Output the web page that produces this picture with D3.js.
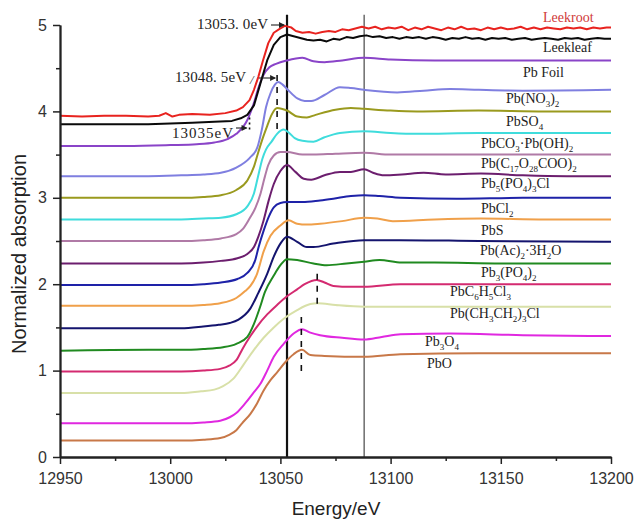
<!DOCTYPE html>
<html>
<head>
<meta charset="utf-8">
<script src="https://cdn.jsdelivr.net/npm/d3@7"></script>
<style>
  html, body { margin: 0; padding: 0; background: #fff; }
  svg { display: block; }
</style>
</head>
<body>
<svg id="chart" width="640" height="524"></svg>
<script>
// ---------------- DATA ----------------
const xTicks = [12950, 13000, 13050, 13100, 13150, 13200];
const xMinorTicks = [12975, 13025, 13075, 13125, 13175];
const yTicks = [0, 1, 2, 3, 4, 5];
const yMinorTicks = [0.5, 1.5, 2.5, 3.5, 4.5];

const seriesNames = [
  "Leekroot", "Leekleaf", "Pb Foil", "Pb(NO_{3})_{2}", "PbSO_{4}",
  "PbCO_{3}·Pb(OH)_{2}", "Pb(C_{17}O_{28}COO)_{2}", "Pb_{5}(PO_{4})_{3}Cl",
  "PbCl_{2}", "PbS", "Pb(Ac)_{2}·3H_{2}O", "Pb_{3}(PO_{4})_{2}",
  "PbC_{6}H_{5}Cl_{3}", "Pb(CH_{3}CH_{2})_{3}Cl", "Pb_{3}O_{4}", "PbO"
];

const leekroot = [[12950,3.95],[12960,3.94],[12970,3.95],[12980,3.95],[12990,3.94],[12995,3.95],[12998,3.98],[13001,3.94],[13004,3.96],[13010,3.97],[13018,3.96],[13025,3.98],[13030,4.01],[13033,4.05],[13036,4.13],[13038,4.25],[13040,4.40],[13042,4.58],[13044.5,4.79],[13047,4.91],[13050,4.96],[13052,4.99],[13055,4.97],[13057,4.93],[13060,4.91],[13063,4.92],[13066,4.90],[13069,4.92],[13072,4.93],[13075,4.92],[13078,4.95],[13081,4.94],[13084,4.96],[13087,4.98],[13090,4.96],[13093,4.98],[13096,4.95],[13099,4.97],[13102,4.96],[13105,4.98],[13108,4.94],[13111,4.97],[13114,4.95],[13117,4.98],[13120,4.96],[13123,4.94],[13126,4.97],[13129,4.95],[13132,4.98],[13135,4.95],[13138,4.96],[13141,4.94],[13144,4.97],[13147,4.95],[13150,4.97],[13153,4.95],[13156,4.96],[13159,4.98],[13162,4.95],[13165,4.97],[13168,4.95],[13171,4.97],[13174,4.96],[13177,4.95],[13180,4.97],[13183,4.96],[13186,4.97],[13189,4.95],[13192,4.97],[13195,4.96],[13198,4.97],[13200,4.97]];
const leekleaf = [[12950,3.85],[12970,3.85],[12990,3.85],[13000,3.86],[13010,3.87],[13020,3.88],[13028,3.89],[13032,3.92],[13035,3.96],[13038,4.07],[13041,4.33],[13044,4.59],[13047,4.77],[13050,4.86],[13053,4.89],[13056,4.87],[13059,4.85],[13062,4.83],[13065,4.82],[13068,4.83],[13071,4.81],[13074,4.84],[13077,4.83],[13080,4.86],[13083,4.85],[13086,4.87],[13089,4.88],[13092,4.86],[13095,4.87],[13098,4.85],[13101,4.86],[13104,4.84],[13107,4.86],[13110,4.85],[13113,4.86],[13116,4.84],[13119,4.86],[13122,4.85],[13125,4.83],[13128,4.85],[13131,4.84],[13134,4.86],[13137,4.84],[13140,4.85],[13143,4.83],[13146,4.85],[13149,4.84],[13152,4.85],[13155,4.83],[13158,4.84],[13161,4.85],[13164,4.83],[13167,4.84],[13170,4.85],[13173,4.84],[13176,4.83],[13179,4.85],[13182,4.84],[13185,4.85],[13188,4.83],[13191,4.84],[13194,4.85],[13197,4.84],[13200,4.84]];
const pbFoil = [[12950,3.60],[12980,3.60],[13000,3.61],[13012,3.62],[13020,3.64],[13026,3.68],[13030,3.74],[13035,3.90],[13038,4.10],[13040,4.27],[13042.3,4.42],[13045,4.51],[13048,4.55],[13053,4.59],[13060,4.62],[13065,4.58],[13070,4.57],[13078,4.59],[13088,4.62],[13100,4.60],[13120,4.59],[13141,4.59],[13170,4.59],[13200,4.59]];
const pbNO3 = [[12950,3.25],[12990,3.25],[13005,3.26],[13015,3.27],[13023,3.29],[13030,3.35],[13036,3.46],[13039.5,3.58],[13041.5,3.78],[13043.5,4.05],[13045.5,4.21],[13047.5,4.31],[13049,4.34],[13051,4.31],[13053,4.26],[13057.7,4.15],[13061,4.12],[13064,4.12],[13070,4.19],[13077,4.28],[13082,4.27],[13088,4.25],[13103,4.22],[13115,4.24],[13127,4.26],[13140,4.25],[13160,4.24],[13200,4.25]];
const pbSO4 = [[12950,3.0],[12990,3.0],[13005,3.0],[13015,3.01],[13023,3.03],[13030,3.09],[13035,3.20],[13038,3.36],[13040,3.53],[13042,3.69],[13044,3.83],[13046,3.96],[13048.5,4.04],[13053,4.01],[13057.7,3.94],[13062,3.93],[13066,3.96],[13075,4.02],[13082,4.04],[13088,4.03],[13100,4.01],[13112,4.0],[13140,4.01],[13170,4.0],[13200,4.0]];
const pbCO3 = [[12950,2.75],[12990,2.75],[13005,2.75],[13015,2.76],[13023,2.77],[13030,2.81],[13035,2.90],[13038,3.05],[13039.8,3.24],[13041.8,3.45],[13043.5,3.56],[13046,3.65],[13048.5,3.74],[13051.5,3.79],[13054,3.75],[13056.5,3.69],[13060,3.66],[13065,3.65],[13070,3.70],[13077,3.75],[13088,3.77],[13100,3.75],[13112,3.74],[13140,3.75],[13200,3.75]];
const pbC17 = [[12950,2.50],[12990,2.50],[13005,2.50],[13015,2.51],[13023,2.53],[13030,2.58],[13033,2.64],[13036,2.76],[13038.6,2.88],[13041,3.05],[13042.7,3.22],[13044.5,3.38],[13047,3.49],[13050,3.53],[13053,3.53],[13060,3.50],[13065,3.50],[13075,3.51],[13088,3.52],[13100,3.50],[13140,3.50],[13200,3.50]];
const pb5PO4Cl = [[12950,2.24],[12990,2.24],[13005,2.24],[13015,2.25],[13023,2.27],[13030.5,2.30],[13035,2.35],[13038,2.43],[13040,2.55],[13042.4,2.74],[13044.7,2.97],[13047,3.16],[13050,3.31],[13053,3.38],[13056.8,3.30],[13060.6,3.22],[13064,3.21],[13070,3.26],[13077,3.30],[13082,3.30],[13088,3.33],[13092,3.29],[13097,3.26],[13105,3.27],[13115,3.29],[13125,3.27],[13141,3.28],[13160,3.26],[13180,3.25],[13200,3.25]];
const pbCl2 = [[12950,1.99],[12990,1.99],[13005,1.99],[13015,2.0],[13023,2.02],[13030.5,2.06],[13035,2.13],[13038.6,2.28],[13040,2.42],[13042.4,2.62],[13044.7,2.78],[13047,2.89],[13050,2.94],[13053,2.95],[13060,2.95],[13068,2.97],[13074,2.99],[13082,3.02],[13088,3.03],[13095,3.02],[13104.5,3.0],[13130,2.99],[13160,3.0],[13200,3.0]];
const pbS = [[12950,1.75],[12990,1.75],[13005,1.75],[13015,1.76],[13022.7,1.78],[13030,1.84],[13034,1.92],[13036.4,1.98],[13039.4,2.12],[13042.4,2.38],[13045.5,2.56],[13050,2.68],[13053.8,2.74],[13057.6,2.70],[13062,2.69],[13068,2.70],[13078,2.73],[13088,2.77],[13094,2.76],[13101,2.73],[13120,2.75],[13141,2.76],[13170,2.75],[13200,2.75]];
const pbAc = [[12950,1.49],[12990,1.49],[13005,1.49],[13015,1.51],[13022,1.53],[13027,1.55],[13031,1.59],[13036.4,1.72],[13040,1.90],[13044,2.12],[13047,2.32],[13050,2.47],[13053,2.55],[13057.6,2.49],[13062,2.43],[13065,2.43],[13074,2.47],[13088,2.51],[13104,2.51],[13140,2.50],[13200,2.49]];
const pb3PO4 = [[12950,1.23],[12990,1.24],[13005,1.24],[13015,1.25],[13024,1.27],[13030,1.31],[13035,1.39],[13038,1.54],[13040.7,1.73],[13043,1.91],[13047,2.10],[13050,2.22],[13053,2.29],[13057.6,2.28],[13065,2.24],[13071,2.22],[13080,2.24],[13088,2.26],[13095,2.28],[13105,2.25],[13120,2.25],[13150,2.24],[13200,2.24]];
const pbC6 = [[12950,0.99],[12990,0.99],[13005,0.99],[13015,1.0],[13022.7,1.02],[13027,1.06],[13030,1.12],[13033,1.26],[13036.4,1.40],[13039.4,1.51],[13044,1.65],[13048.5,1.76],[13053,1.86],[13057.6,1.94],[13061,2.0],[13066.5,2.05],[13070,2.02],[13074,1.98],[13082,1.97],[13088,1.97],[13104.5,2.0],[13140,2.0],[13200,2.0]];
const pbEt = [[12950,0.74],[12990,0.74],[13005,0.74],[13014,0.76],[13020,0.78],[13024,0.82],[13028.8,0.91],[13033.3,1.07],[13038,1.24],[13042.4,1.38],[13047,1.50],[13051.5,1.60],[13057.6,1.70],[13063.6,1.77],[13067,1.78],[13075,1.76],[13088,1.74],[13100,1.74],[13200,1.74]];
const pb3O4 = [[12950,0.39],[12990,0.39],[13005,0.39],[13015,0.40],[13022.7,0.42],[13027,0.46],[13030,0.51],[13034,0.62],[13038,0.75],[13041,0.85],[13044,1.0],[13047,1.16],[13051.5,1.31],[13056,1.43],[13059.8,1.48],[13063.6,1.44],[13068,1.41],[13078,1.38],[13088,1.36],[13096,1.39],[13104.5,1.42],[13127,1.43],[13160,1.41],[13200,1.40]];
const pbO = [[12950,0.19],[12990,0.19],[13005,0.19],[13015,0.20],[13022.7,0.22],[13027,0.26],[13030,0.31],[13032.6,0.39],[13036.4,0.50],[13039.4,0.62],[13042.4,0.77],[13045.5,0.89],[13048.5,0.98],[13052.3,1.10],[13056,1.19],[13059.8,1.24],[13063.6,1.18],[13070,1.17],[13088,1.16],[13104.5,1.19],[13140,1.20],[13200,1.20]];

const seriesData = [leekroot, leekleaf, pbFoil, pbNO3, pbSO4, pbCO3, pbC17, pb5PO4Cl,
  pbCl2, pbS, pbAc, pb3PO4, pbC6, pbEt, pb3O4, pbO];

// reference energies (eV)
const refLines = [13053.0, 13088.0];
const peakMarkers = [[13048.5, 3.78, 4.42], [13036, 3.76, 3.93], [13066.7, 1.72, 2.12], [13059.5, 0.98, 1.62]];
const annotationTexts = ["13053. 0eV", "13048. 5eV", "13035eV"];

// ---------------- STYLE / LAYOUT ----------------
const colors = ["#e8231f", "#0a0a0a", "#8a44c8", "#7f7fe0", "#9a9a1e", "#3fdcdc", "#b07aa6", "#6c1e6e",
  "#1e22a8", "#f0a04a", "#14146e", "#208a20", "#d42a70", "#d8e0a8", "#e028e0", "#c87848"];
const noisy = [true, true, false, false, false, false, false, false, false, false, false, false, false, false, false, false];
const labelPos = [[543,22],[543,52],[523,77],[506,103],[506,126],[481,148],[481,168],[481,188],
  [481,213],[481,235],[480,255],[481,277],[450,296],[450,318],[425,346],[427,368]];

const svg = d3.select("#chart");
const x = d3.scaleLinear().domain([12950, 13200]).range([60, 611]);
const y = d3.scaleLinear().domain([0, 5]).range([457, 25]);

const serif = "'Liberation Serif', 'Times New Roman', serif";
const sans = "'Liberation Sans', Arial, sans-serif";

// reference vertical lines
svg.append("line").attr("x1", x(refLines[0])).attr("x2", x(refLines[0]))
  .attr("y1", y(5.12)).attr("y2", y(0)).attr("stroke", "#111").attr("stroke-width", 2.2);
svg.append("line").attr("x1", x(refLines[1])).attr("x2", x(refLines[1]))
  .attr("y1", y(5.12)).attr("y2", y(0)).attr("stroke", "#555").attr("stroke-width", 1.3);

// curves
const smoothLine = d3.line().x(d => x(d[0])).y(d => y(d[1])).curve(d3.curveMonotoneX);
const rawLine = d3.line().x(d => x(d[0])).y(d => y(d[1]));
seriesData.slice().reverse().forEach((data, ri) => {
  const i = seriesData.length - 1 - ri;
  svg.append("path").attr("d", noisy[i] ? rawLine(data) : smoothLine(data))
    .attr("fill", "none").attr("stroke", colors[i]).attr("stroke-width", 2)
    .attr("stroke-linejoin", "round");
});

// peak markers (dashed)
peakMarkers.forEach((m, i) => {
  svg.append("line").attr("x1", x(m[0])).attr("x2", x(m[0]))
    .attr("y1", y(m[2])).attr("y2", y(m[1]))
    .attr("stroke", "#111").attr("stroke-width", 1.6)
    .attr("stroke-dasharray", i === 1 ? "2,3" : "6,6");
});

// axes
const gx = svg.append("g").attr("transform", `translate(0,${y(0)})`)
  .call(d3.axisBottom(x).tickValues(xTicks).tickFormat(d3.format("d")).tickSize(7).tickSizeOuter(0).tickPadding(9));
const gxm = svg.append("g").attr("transform", `translate(0,${y(0)})`)
  .call(d3.axisBottom(x).tickValues(xMinorTicks).tickFormat("").tickSize(4).tickSizeOuter(0));
const gy = svg.append("g").attr("transform", `translate(${x(12950)},0)`)
  .call(d3.axisLeft(y).tickValues(yTicks).tickFormat(d3.format("d")).tickSize(7).tickSizeOuter(0).tickPadding(6));
const gym = svg.append("g").attr("transform", `translate(${x(12950)},0)`)
  .call(d3.axisLeft(y).tickValues(yMinorTicks).tickFormat("").tickSize(4).tickSizeOuter(0));
[gx, gxm, gy, gym].forEach(g => {
  g.selectAll("path.domain").attr("stroke", "#222").attr("stroke-width", 1.8);
  g.selectAll(".tick line").attr("stroke", "#222").attr("stroke-width", 1.5);
  g.selectAll("text").attr("font-family", sans).attr("font-size", 16).attr("fill", "#333");
});

// axis titles
svg.append("text").attr("x", 336).attr("y", 515).attr("text-anchor", "middle")
  .attr("font-family", sans).attr("font-size", 19).attr("fill", "#222").text("Energy/eV");
svg.append("text").attr("transform", "translate(26,254) rotate(-90)").attr("text-anchor", "middle")
  .attr("font-family", sans).attr("font-size", 20).attr("fill", "#222").text("Normalized absorption");

// series labels with subscripts
function addLabel(str, px, py, color) {
  const t = svg.append("text").attr("x", px).attr("y", py)
    .attr("font-family", serif).attr("font-size", 14).attr("fill", color);
  const parts = str.split(/_\{([^}]*)\}/);
  let shift = 0;
  parts.forEach((p, k) => {
    if (p === "") return;
    const isSub = k % 2 === 1;
    const target = isSub ? 4 : 0;
    const ts = t.append("tspan").attr("dy", target - shift).text(p);
    if (isSub) ts.attr("font-size", 9);
    shift = target;
  });
}
seriesNames.forEach((n, i) => addLabel(n, labelPos[i][0], labelPos[i][1], i === 0 ? "#d03a3a" : "#222"));

// annotations
function arrow(x1, yy, x2) {
  svg.append("line").attr("x1", x1).attr("x2", x2 - 1).attr("y1", yy).attr("y2", yy)
    .attr("stroke", "#222").attr("stroke-width", 1.1);
  svg.append("path").attr("d", `M${x2},${yy} L${x2 - 6},${yy - 3} L${x2 - 6},${yy + 3} Z`).attr("fill", "#222");
}
svg.append("text").attr("x", 197).attr("y", 29).attr("font-family", serif).attr("font-size", 15)
  .attr("fill", "#222").attr("textLength", 71).text(annotationTexts[0]);
arrow(271, 25, x(refLines[0]) - 2);
svg.append("text").attr("x", 175).attr("y", 82).attr("font-family", serif).attr("font-size", 15)
  .attr("fill", "#222").attr("textLength", 71).text(annotationTexts[1]);
svg.append("text").attr("x", 250).attr("y", 84).attr("font-family", serif).attr("font-size", 13)
  .attr("font-style", "italic").attr("fill", "#444").text("/");
arrow(259, 78, x(peakMarkers[0][0]) - 1);
svg.append("text").attr("x", 172).attr("y", 138).attr("font-family", serif).attr("font-size", 15)
  .attr("fill", "#222").attr("textLength", 61).text(annotationTexts[2]);
arrow(236, 128, x(peakMarkers[1][0]) - 2);
</script>
</body>
</html>
